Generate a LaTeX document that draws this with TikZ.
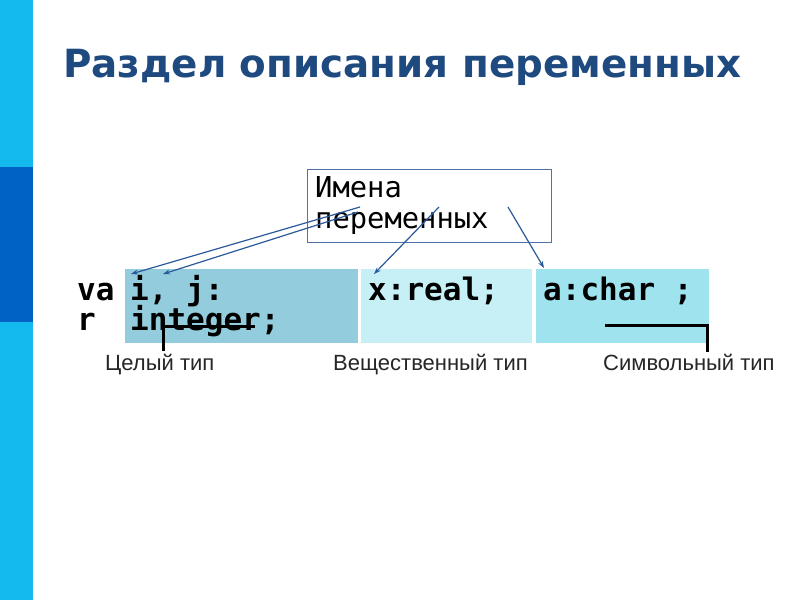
\documentclass[tikz,border=0pt]{standalone}
\usepackage{fontspec}
\setmainfont{Liberation Sans}
\newfontfamily\titlefont{DejaVu Sans}
\newfontfamily\codefont{DejaVu Sans Mono}
\usetikzlibrary{arrows.meta}
\definecolor{barlight}{HTML}{14B9EE}
\definecolor{bardark}{HTML}{0062C4}
\definecolor{titleblue}{HTML}{1F4A80}
\definecolor{cellA}{HTML}{93CDDD}
\definecolor{cellB}{HTML}{C6EFF6}
\definecolor{cellC}{HTML}{9FE3EF}
\definecolor{boxline}{HTML}{4F73A6}
\definecolor{arrowblue}{HTML}{2B5A9A}
\tikzset{
  codetext/.style={anchor=base west, inner sep=0pt, font=\codefont\bfseries\fontsize{31}{32}\selectfont},
  boxtext/.style={anchor=base west, inner sep=0pt, font=\codefont\fontsize{28.8}{30}\selectfont},
  typelabel/.style={anchor=base west, inner sep=0pt, font=\fontsize{22}{24}\selectfont, text=black!85},
  namearrow/.style={draw=arrowblue, line width=1.2pt, -{Stealth[length=7pt,width=5pt]}},
  bracket/.style={draw=black, line width=3pt},
}
\begin{document}
\begin{tikzpicture}[x=1pt,y=-1pt]
\useasboundingbox (0,0) rectangle (800,600);
\fill[white] (0,0) rectangle (800,600);
% left bar
\fill[barlight] (0,0) rectangle (33,600);
\fill[bardark] (0,167) rectangle (33,322);
% title
\node[anchor=base west, inner sep=0pt, text=titleblue, font=\titlefont\bfseries\fontsize{38.8}{42}\selectfont] (title) at (63,77) {Раздел описания переменных};
% names box
\node[draw=boxline, line width=1.2pt, minimum width=244pt, minimum height=73pt, anchor=north west, inner sep=0pt] (box) at (307,169) {};
\node[boxtext] (imena) at (315,197) {Имена};
\node[boxtext] (perem) at (315,228) {переменных};
% cells
\node[fill=cellA, minimum width=233pt, minimum height=74pt, anchor=north west, inner sep=0pt] (c1) at (125,269) {};
\node[fill=cellB, minimum width=171pt, minimum height=74pt, anchor=north west, inner sep=0pt] (c2) at (361,269) {};
\node[fill=cellC, minimum width=173pt, minimum height=74pt, anchor=north west, inner sep=0pt] (c3) at (536,269) {};
% code texts
\node[codetext] (va) at (77,300) {va};
\node[codetext] (r) at (77,330) {r};
\node[codetext] (ij) at (130,300) {i, j:};
\node[codetext] (int) at (130,330) {integer;};
\node[codetext] (xreal) at (368,300) {x:real;};
\node[codetext] (achar) at (543,300) {a:char ;};
% arrow coordinates
\coordinate (s1) at (360,207);
\coordinate (s2) at (358,212);
\coordinate (s3) at (439,207);
\coordinate (s4) at (508,207);
\coordinate (e1) at (131,274);
\coordinate (e2) at (163,274);
\coordinate (e3) at (374,274);
\coordinate (e4) at (544,268);
\draw[namearrow] (s1) -- (e1);
\draw[namearrow] (s2) -- (e2);
\draw[namearrow] (s3) -- (e3);
\draw[namearrow] (s4) -- (e4);
% type brackets
\coordinate (b1a) at (163,351);
\coordinate (b1b) at (163,326);
\coordinate (b1c) at (255,326);
\draw[bracket] (b1a) -- (b1b) -- (b1c);
\coordinate (b3a) at (605,325);
\coordinate (b3b) at (707,325);
\coordinate (b3c) at (707,352);
\draw[bracket] (b3a) -- (b3b) -- (b3c);
% labels
\node[typelabel] (l1) at (105,370) {Целый тип};
\node[typelabel] (l2) at (333,370) {Вещественный тип};
\node[typelabel] (l3) at (603,370) {Символьный тип};
\end{tikzpicture}
\end{document}
